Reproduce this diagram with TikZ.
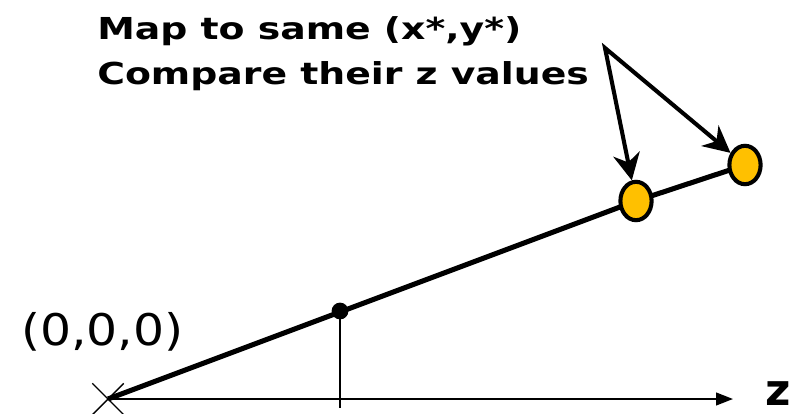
\documentclass[tikz,border=0pt]{standalone}
\usepackage{fontspec}
\setmainfont{DejaVu Sans}
\newfontfamily\notefont[FakeStretch=1.25]{DejaVu Sans}
\newfontfamily\originfont[FakeStretch=1.12]{DejaVu Sans}
\usepackage{tikz}
\usetikzlibrary{arrows.meta, shapes.geometric, shapes.misc, positioning, backgrounds}
\usepackage{xcolor}
\definecolor{sampleorange}{HTML}{FFC000}

\begin{document}
\begin{tikzpicture}[
    x=0.025cm, y=-0.025cm,
    sample/.style={ellipse, draw, line width=2.9pt, fill=sampleorange, minimum width=0.78cm, minimum height=0.96cm, inner sep=0pt},
    point/.style={circle, fill, minimum size=0.42cm, inner sep=0pt},
    axis/.style={line width=1.4pt, -{Triangle[length=12pt, width=9pt]}},
    ray/.style={line width=3.6pt},
    arrow/.style={line width=2.9pt, {Stealth[length=19pt, width=19pt, inset=6pt]}-{Stealth[length=19pt, width=19pt, inset=6pt]}}
]
\useasboundingbox (0,0) rectangle (799,413);

% origin and axis
\node[cross out, draw, line width=1pt, minimum size=0.75cm, inner sep=0pt] (origin) at (108,399) {};
\node[anchor=base west, inner sep=0pt, font=\originfont\fontsize{31}{36}\selectfont] (olabel) at (21,345) {(0,0,0)};
\node[anchor=base west, inner sep=0pt, text depth=0pt, font=\fontsize{31}{36}\selectfont\bfseries] (zlabel) at (765,405) {z};
\coordinate (axend) at (733,399);
\draw[axis] (origin.center) -- (axend);

% points on the ray
\node[point] (proj) at (340,311) {};
\node[sample] (near) at (636,201) {};
\node[sample] (far) at (745,165) {};
\coordinate (foot) at (340,408);
\draw[line width=1.4pt] (proj.center) -- (foot);

\begin{scope}[on background layer]
\draw[ray] (origin.center) -- (near.center) -- (far.center);
\end{scope}

% annotation
\node[anchor=north west, inner sep=0pt, align=left, font=\notefont\fontsize{21.5}{32}\selectfont\bfseries] (note) at (97,16)
    {Map to same (x*,y*)\\Compare their z values};
\coordinate (apex) at (605,48);
\draw[arrow, line join=miter] (near) -- (apex) -- (far);
\end{tikzpicture}
\end{document}
